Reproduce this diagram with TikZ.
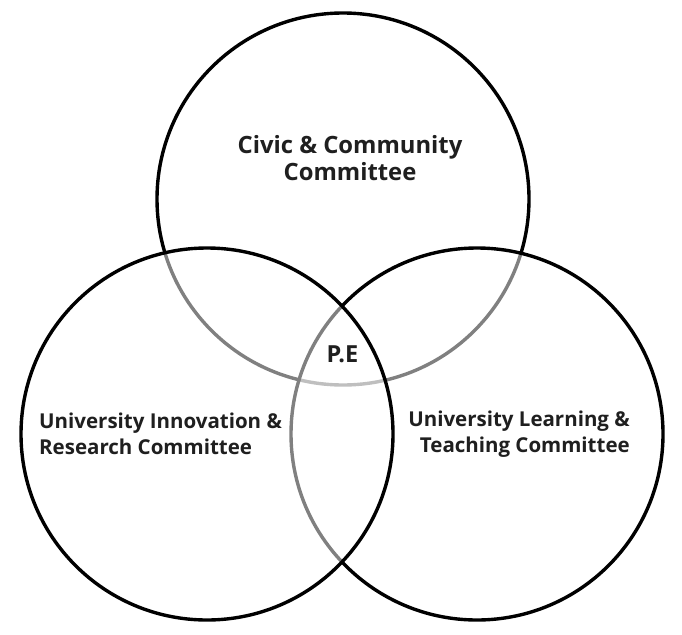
\documentclass[tikz,border=0pt]{standalone}
\usepackage{fontspec}
\setmainfont{Open Sans}
\begin{document}
\begin{tikzpicture}[x=1pt,y=-1pt,
  ring/.style={circle, minimum size=372pt, inner sep=0pt, line width=3.4pt, draw=black},
  veil/.style={fill=white, fill opacity=0.5, draw opacity=1},
  lbl/.style={font=\bfseries\fontsize{20.5}{26.5}\selectfont, text=black!88, inner sep=0pt},
  biglbl/.style={lbl, font=\bfseries\fontsize{23.8}{27}\selectfont}]
\useasboundingbox (0,0) rectangle (682,634);
\fill[white] (0,0) rectangle (682,634);
\node[ring] (civic) at (343,199) {};
\node[ring, veil] (learn) at (477,434) {};
\node[ring, veil] (innov) at (207,434) {};
\node[biglbl, align=center] (tcivic) at (350,158) {Civic \& Community\\Committee};
\node[lbl, align=left, anchor=west] (tinnov) at (39,434) {University Innovation \&\\Research Committee};
\node[lbl, align=right, anchor=east] (tlearn) at (630,434) {University Learning \&\\Teaching Committee};
\node[lbl, font=\bfseries\fontsize{23.5}{28}\selectfont] (pe) at (342.5,354.5) {P.E};
\end{tikzpicture}
\end{document}
